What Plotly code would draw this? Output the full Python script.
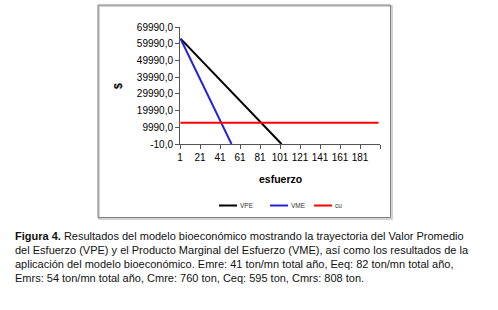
import plotly.graph_objects as go

# ---- data ----
effort_vpe = [1, 102]
vpe = [63000, -10]
effort_vme = [1, 52]
vme = [63000, -10]
effort_cu = [1, 199]
cu = [12700, 12700]

y_ticks = [-10, 9990, 19990, 29990, 39990, 49990, 59990, 69990]
y_tick_labels = ["-10,0", "9990,0", "19990,0", "29990,0", "39990,0", "49990,0", "59990,0", "69990,0"]
x_tick_labels = ["1", "21", "41", "61", "81", "101", "121", "141", "161", "181", ""]
x_tick_pos = [0.5 + 20 * i for i in range(11)]

caption = [
    "<b>Figura 4.</b> Resultados del modelo bioeconómico mostrando la trayectoria del Valor Promedio",
    "del Esfuerzo (VPE) y el Producto Marginal del Esfuerzo (VME), así como los resultados de la",
    "aplicación del modelo bioeconómico. Emre: 41 ton/mn total año, Eeq: 82 ton/mn total año,",
    "Emrs: 54 ton/mn total año, Cmre: 760 ton, Ceq: 595 ton, Cmrs: 808 ton.",
]

# ---- layout geometry (pixels) ----
W, H = 498, 310
PX0, PX1, PY0, PY1 = 180, 380, 27, 144


def fx(px):
    return (px - PX0) / (PX1 - PX0)


def fy(py):
    return (PY1 - py) / (PY1 - PY0)


FONT = "Liberation Sans, Arial, sans-serif"

fig = go.Figure()
fig.add_trace(go.Scatter(x=effort_vpe, y=vpe, mode="lines", name="VPE",
                         line=dict(color="#000000", width=2)))
fig.add_trace(go.Scatter(x=effort_vme, y=vme, mode="lines", name="VME",
                         line=dict(color="#2424d8", width=2)))
fig.add_trace(go.Scatter(x=effort_cu, y=cu, mode="lines", name="cu",
                         line=dict(color="#ff0000", width=2)))

shapes = []
annotations = []

# chart frame with shadow
shapes.append(dict(type="rect", xref="paper", yref="paper",
                   x0=fx(99), x1=fx(392), y0=fy(219), y1=fy(6),
                   line=dict(color="#c4c4c4", width=1.5), layer="below"))
shapes.append(dict(type="rect", xref="paper", yref="paper",
                   x0=fx(98), x1=fx(390.5), y0=fy(217.5), y1=fy(5),
                   line=dict(color="#808080", width=1), layer="below"))

# legend (manual)
legend_items = [("VPE", "#000000", 219), ("VME", "#2424d8", 270), ("cu", "#ff0000", 314)]
ly = 205.5
for name, col, x0 in legend_items:
    shapes.append(dict(type="line", xref="paper", yref="paper",
                       x0=fx(x0), x1=fx(x0 + 18), y0=fy(ly), y1=fy(ly),
                       line=dict(color=col, width=2)))
    annotations.append(dict(x=fx(x0 + 19), y=fy(ly), xref="paper", yref="paper",
                            text=name, showarrow=False, xanchor="left", yanchor="middle",
                            font=dict(family=FONT, size=6.5, color="#333333")))

# axis titles
annotations.append(dict(x=fx(280), y=fy(179), xref="paper", yref="paper",
                        text="<b>esfuerzo</b>", showarrow=False,
                        xanchor="center", yanchor="middle",
                        font=dict(family=FONT, size=10.5, color="#000000")))
annotations.append(dict(x=fx(118), y=fy(86), xref="paper", yref="paper",
                        text="<b>$</b>", showarrow=False, textangle=-90,
                        xanchor="center", yanchor="middle",
                        font=dict(family=FONT, size=10.5, color="#000000")))

# caption
cap_y = [236.5, 250.2, 263.9, 277.6]
for txt, yy in zip(caption, cap_y):
    annotations.append(dict(x=fx(13), y=fy(yy), xref="paper", yref="paper",
                            text=txt, showarrow=False, xanchor="left", yanchor="middle",
                            font=dict(family=FONT, size=11, color="#111111")))

fig.update_layout(
    width=W, height=H,
    margin=dict(l=PX0, r=W - PX1, t=PY0, b=H - PY1),
    paper_bgcolor="white", plot_bgcolor="white",
    showlegend=False,
    shapes=shapes,
    annotations=annotations,
    xaxis=dict(range=[0.5, 200.5], tickmode="array", tickvals=x_tick_pos,
               ticktext=x_tick_labels, ticks="outside", ticklen=4, tickwidth=1,
               tickcolor="#555555", showline=True, linecolor="#555555", linewidth=1,
               showgrid=False, zeroline=False,
               tickfont=dict(family=FONT, size=10, color="#000000")),
    yaxis=dict(range=[-10, 69990], tickmode="array", tickvals=y_ticks,
               ticktext=y_tick_labels, ticks="outside", ticklen=4, tickwidth=1,
               tickcolor="#555555", showline=True, linecolor="#555555", linewidth=1,
               showgrid=False, zeroline=False,
               tickfont=dict(family=FONT, size=10, color="#000000")),
)

fig.write_html("out.html")
